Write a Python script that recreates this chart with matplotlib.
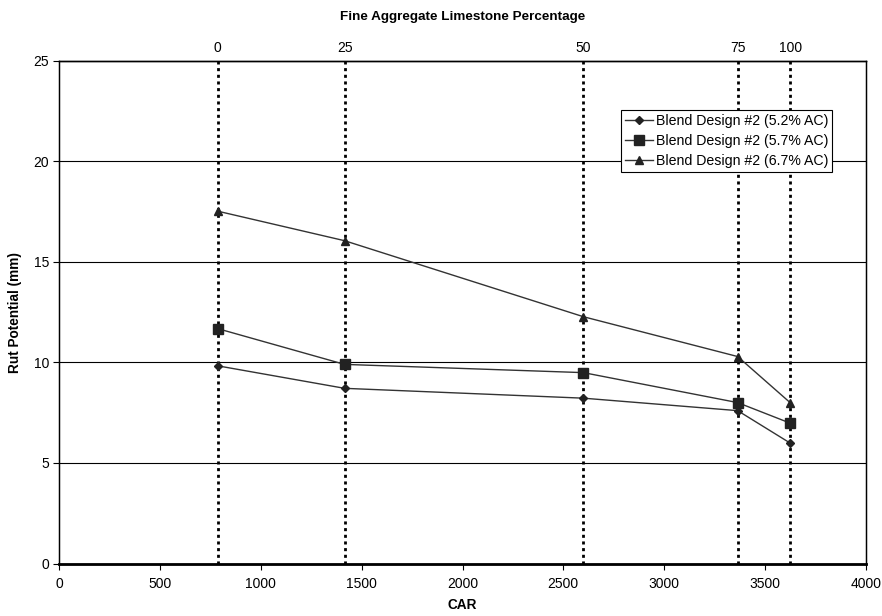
import matplotlib
matplotlib.use("Agg")
import matplotlib.pyplot as plt

plt.rcParams['font.family'] = ['Liberation Sans', 'DejaVu Sans']

# CAR of each blend and its fine aggregate limestone percentage
car = [785, 1415, 2600, 3365, 3625]
limestone_pct = ['0', '25', '50', '75', '100']

# Rut potential (mm) for each asphalt content
rut_52 = [9.83, 8.71, 8.22, 7.60, 5.99]
rut_57 = [11.68, 9.90, 9.49, 8.00, 6.98]
rut_67 = [17.52, 16.05, 12.27, 10.29, 8.00]

series_labels = ['Blend Design #2 (5.2% AC)',
                 'Blend Design #2 (5.7% AC)',
                 'Blend Design #2 (6.7% AC)']

x_ticks = [0, 500, 1000, 1500, 2000, 2500, 3000, 3500, 4000]
y_ticks = [0, 5, 10, 15, 20, 25]

fig = plt.figure(figsize=(8.82, 6.16), dpi=100)
ax = fig.add_axes([59.3 / 882, 1 - 563.5 / 616, (865.7 - 59.3) / 882, (563.5 - 60.7) / 616])

ax.set_xlim(0, 4000)
ax.set_ylim(0, 25)

# horizontal gridlines
for yv in y_ticks[1:-1]:
    ax.axhline(yv, color='black', lw=0.8, zorder=1)

# dotted vertical guides at each limestone percentage
for xv in car:
    ax.axvline(xv, color='black', lw=2.0, linestyle=(0, (1.1, 1.3)), zorder=2)

line_color = '#333333'
ax.plot(car, rut_52, color=line_color, lw=1.0, marker='D', markersize=4.2,
        markerfacecolor='#222222', markeredgecolor='#222222', label=series_labels[0], zorder=4)
ax.plot(car, rut_57, color=line_color, lw=1.0, marker='s', markersize=6.5,
        markerfacecolor='#222222', markeredgecolor='#222222', label=series_labels[1], zorder=4)
ax.plot(car, rut_67, color=line_color, lw=1.0, marker='^', markersize=6.0,
        markerfacecolor='#222222', markeredgecolor='#222222', label=series_labels[2], zorder=4)

ax.set_xticks(x_ticks)
ax.set_yticks(y_ticks)
ax.tick_params(axis='both', direction='out', length=4, width=0.8, labelsize=10, colors='black')
ax.tick_params(axis='x', pad=6)
for side in ['top', 'right', 'left']:
    ax.spines[side].set_linewidth(1.0)
    ax.spines[side].set_color('black')
ax.spines['bottom'].set_linewidth(2.0)

ax.set_xlabel('CAR', fontsize=9.8, fontweight='bold', labelpad=5)
ax.set_ylabel('Rut Potential (mm)', fontsize=9.8, fontweight='bold', labelpad=8)

# secondary axis with limestone percentage labels
top = ax.twiny()
top.set_xlim(ax.get_xlim())
top.set_xticks(car)
top.set_xticklabels(limestone_pct)
top.tick_params(axis='x', length=0, pad=4, labelsize=10)
top.spines['top'].set_linewidth(1.0)
top.set_xlabel('Fine Aggregate Limestone Percentage', fontsize=9.7, fontweight='bold', labelpad=15)

leg = ax.legend(loc='upper right', bbox_to_anchor=(832 / 882, 1 - 110 / 616),
                bbox_transform=fig.transFigure, fontsize=10.2, frameon=True,
                fancybox=False, framealpha=1, edgecolor='black', borderpad=0.25,
                labelspacing=0.45, handlelength=2.0, handletextpad=0.2, borderaxespad=0)
leg.get_frame().set_linewidth(0.8)
leg.set_zorder(10)

fig.savefig('out.png', dpi=100)
